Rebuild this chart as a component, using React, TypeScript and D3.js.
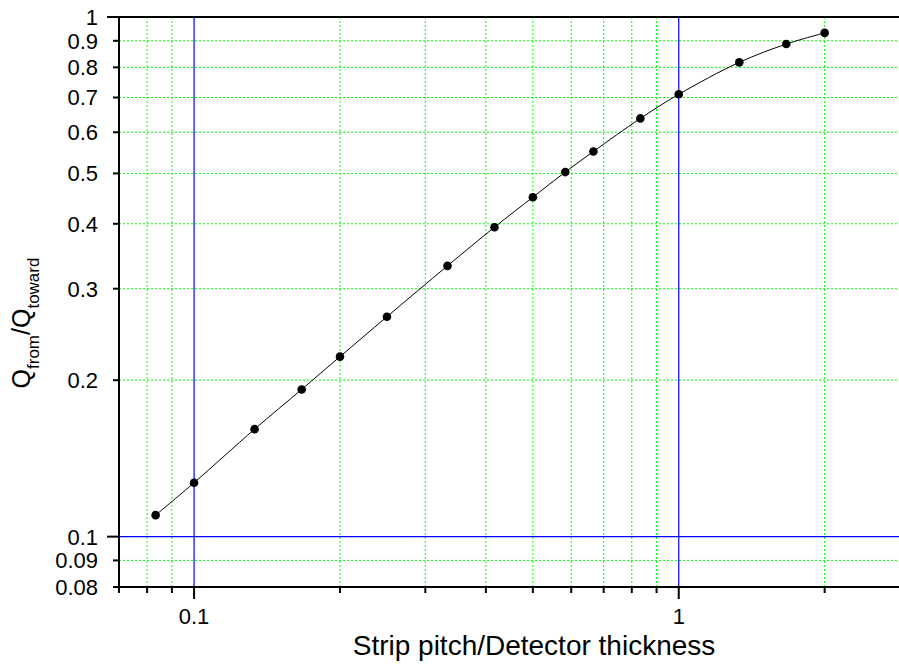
import React, { useEffect, useRef } from "react";
import * as d3 from "d3";

// strip pitch / detector thickness (300 um detector)
const pitchRatio = [0.0833, 0.1, 0.1333, 0.1667, 0.2, 0.25, 0.3333, 0.4167, 0.5, 0.5833, 0.6667, 0.8333, 1, 1.3333, 1.6667, 2];
// Q_from / Q_toward
const chargeRatio = [0.110, 0.127, 0.161, 0.192, 0.222, 0.265, 0.332, 0.394, 0.450, 0.503, 0.551, 0.638, 0.710, 0.818, 0.887, 0.932];

const xMajorTicks = [0.1, 1];
const xMinorTicks = [0.07, 0.08, 0.09, 0.2, 0.3, 0.4, 0.5, 0.6, 0.7, 0.8, 0.9, 2, 3];
const yMajorTicks = [0.1, 1];
const yMinorTicks = [0.08, 0.09, 0.2, 0.3, 0.4, 0.5, 0.6, 0.7, 0.8, 0.9];
const yTickLabels = [0.08, 0.09, 0.1, 0.2, 0.3, 0.4, 0.5, 0.6, 0.7, 0.8, 0.9, 1];

export default function App() {
  const svgRef = useRef<SVGSVGElement>(null);

  useEffect(() => {
    const W = 899, H = 664;
    const m = { left: 119, top: 17, right: 910, bottom: 587 };
    const font = "Liberation Sans, Arial, sans-serif";

    const svg = d3.select(svgRef.current)
      .attr("width", W)
      .attr("height", H)
      .style("background", "#fff");
    svg.selectAll("*").remove();

    const x = d3.scaleLog().domain([0.07, 3]).range([m.left, m.right]);
    const y = d3.scaleLog().domain([0.08, 1]).range([m.bottom, m.top]);

    // green dotted grid
    const grid = svg.append("g")
      .attr("stroke", "#00ff00")
      .attr("stroke-width", 1)
      .attr("stroke-dasharray", "2,2");
    grid.append("g").selectAll("line")
      .data(xMinorTicks.filter(d => d > 0.07))
      .join("line")
      .attr("x1", d => x(d))
      .attr("x2", d => x(d))
      .attr("y1", m.top)
      .attr("y2", m.bottom);
    grid.append("g").selectAll("line")
      .data(yMinorTicks.filter(d => d > 0.08))
      .join("line")
      .attr("y1", d => y(d))
      .attr("y2", d => y(d))
      .attr("x1", m.left)
      .attr("x2", W);

    // blue lines at the decades
    const blue = svg.append("g")
      .attr("stroke", "#0000ff")
      .attr("stroke-width", 1.2);
    blue.append("g").selectAll("line")
      .data(xMajorTicks)
      .join("line")
      .attr("x1", d => x(d))
      .attr("x2", d => x(d))
      .attr("y1", m.top)
      .attr("y2", m.bottom);
    blue.append("g").selectAll("line")
      .data(yMajorTicks.filter(d => d < 1))
      .join("line")
      .attr("y1", d => y(d))
      .attr("y2", d => y(d))
      .attr("x1", m.left)
      .attr("x2", W);

    // data line + points
    const line = d3.line<number>()
      .x((d, i) => x(pitchRatio[i]))
      .y(d => y(d))
      .curve(d3.curveCatmullRom);
    svg.append("path")
      .attr("d", line(chargeRatio))
      .attr("fill", "none")
      .attr("stroke", "#000")
      .attr("stroke-width", 1);
    svg.append("g").selectAll("circle")
      .data(chargeRatio)
      .join("circle")
      .attr("cx", (d, i) => x(pitchRatio[i]))
      .attr("cy", d => y(d))
      .attr("r", 4.3)
      .attr("fill", "#000");

    // axes frame
    const axes = svg.append("g").attr("stroke", "#000").attr("stroke-width", 2);
    axes.append("line").attr("x1", m.left).attr("x2", m.left).attr("y1", m.top - 1).attr("y2", m.bottom + 1);
    axes.append("line").attr("x1", m.left - 1).attr("x2", W).attr("y1", m.bottom).attr("y2", m.bottom);
    axes.append("line").attr("x1", m.left - 12).attr("x2", W).attr("y1", m.top).attr("y2", m.top);

    // x ticks
    axes.append("g").selectAll("line")
      .data(xMinorTicks)
      .join("line")
      .attr("x1", d => x(d)).attr("x2", d => x(d))
      .attr("y1", m.bottom).attr("y2", m.bottom + 6);
    axes.append("g").selectAll("line")
      .data(xMajorTicks)
      .join("line")
      .attr("x1", d => x(d)).attr("x2", d => x(d))
      .attr("y1", m.bottom).attr("y2", m.bottom + 12);

    // y ticks
    axes.append("g").selectAll("line")
      .data(yMinorTicks)
      .join("line")
      .attr("x1", m.left - 6).attr("x2", m.left)
      .attr("y1", d => y(d)).attr("y2", d => y(d));
    axes.append("g").selectAll("line")
      .data(yMajorTicks)
      .join("line")
      .attr("x1", m.left - 12).attr("x2", m.left)
      .attr("y1", d => y(d)).attr("y2", d => y(d));

    // tick labels
    svg.append("g").selectAll("text")
      .data(xMajorTicks)
      .join("text")
      .attr("x", d => x(d))
      .attr("y", 624)
      .attr("text-anchor", "middle")
      .attr("font-family", font)
      .attr("font-size", 22)
      .text(d => String(d));
    svg.append("g").selectAll("text")
      .data(yTickLabels)
      .join("text")
      .attr("x", 98)
      .attr("y", d => y(d))
      .attr("dy", "0.36em")
      .attr("text-anchor", "end")
      .attr("font-family", font)
      .attr("font-size", 22)
      .text(d => String(d));

    // axis titles
    svg.append("text")
      .attr("x", 534)
      .attr("y", 655)
      .attr("text-anchor", "middle")
      .attr("font-family", font)
      .attr("font-size", 28)
      .text("Strip pitch/Detector thickness");

    const yt = svg.append("text")
      .attr("transform", "translate(30,323) rotate(-90)")
      .attr("text-anchor", "middle")
      .attr("font-family", font)
      .attr("font-size", 25);
    yt.append("tspan").text("Q");
    yt.append("tspan").attr("font-size", 17).attr("dy", 9).text("from");
    yt.append("tspan").attr("dy", -9).text("/Q");
    yt.append("tspan").attr("font-size", 17).attr("dy", 9).text("toward");
  }, []);

  return (
    <div className="Graph">
      <svg ref={svgRef} style={{ position: "absolute", left: 0, top: 0 }}></svg>
    </div>
  );
}
